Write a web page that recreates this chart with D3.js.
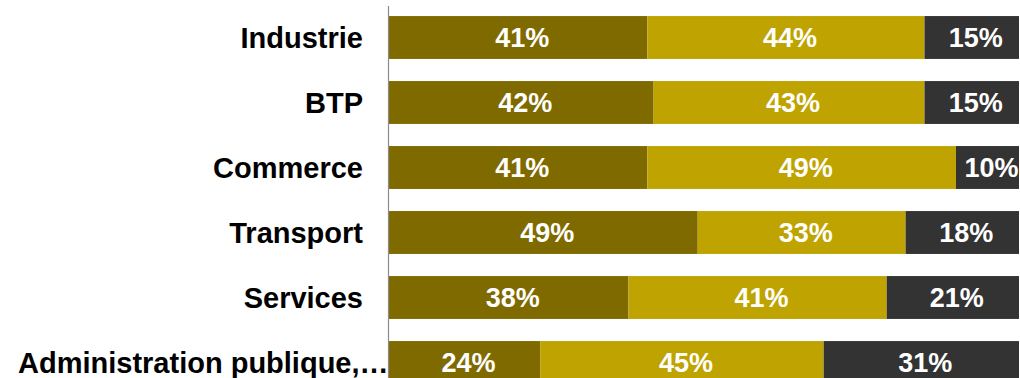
<!DOCTYPE html>
<html>
<head>
<meta charset="utf-8">
<script src="https://cdn.jsdelivr.net/npm/d3@7"></script>
<style>
  body { margin: 0; background: #fff; }
  #chart { width: 1020px; height: 378px; }
  text { font-family: "Liberation Sans", Arial, sans-serif; font-weight: bold; }
</style>
</head>
<body>
<div id="chart"></div>
<script>
// Sector breakdown - 100% stacked horizontal bars

const categories = ["Industrie", "BTP", "Commerce", "Transport", "Services", "Administration publique,…"];
const seriesA = [41, 42, 41, 49, 38, 24];
const seriesB = [44, 43, 49, 33, 41, 45];
const seriesC = [15, 15, 10, 18, 21, 31];
const seriesColors = ["#7f6a00", "#bfa300", "#333333"];

function renderChart(containerId) {
  const width = 1020, height = 378;
  const margin = { top: 5, right: 1, bottom: 0, left: 389 };

  const container = d3.select(`#${containerId}`);
  container.selectAll("*").remove();

  const svg = container.append("svg")
    .attr("width", width)
    .attr("height", height);

  const x = d3.scaleLinear()
    .domain([0, 100])
    .range([margin.left, width - margin.right]);

  const y = d3.scaleBand()
    .domain(categories)
    .range([margin.top, margin.top + categories.length * 65])
    .paddingInner(0.34)
    .paddingOuter(0.17);

  // build rows for the stack
  const rows = categories.map((c, i) => ({ cat: c, a: seriesA[i], b: seriesB[i], c: seriesC[i] }));
  const stack = d3.stack().keys(["a", "b", "c"])(rows);

  const layers = svg.append("g")
    .selectAll("g")
    .data(stack)
    .join("g")
    .attr("fill", (d, i) => seriesColors[i]);

  layers.selectAll("rect")
    .data(d => d)
    .join("rect")
    .attr("x", d => x(d[0]))
    .attr("y", d => y(d.data.cat))
    .attr("width", d => x(d[1]) - x(d[0]))
    .attr("height", y.bandwidth());

  // value labels
  layers.selectAll("text")
    .data(d => d)
    .join("text")
    .attr("x", d => (x(d[0]) + x(d[1])) / 2 + 4)
    .attr("y", d => y(d.data.cat) + y.bandwidth() / 2)
    .attr("dy", "0.36em")
    .attr("text-anchor", "middle")
    .attr("fill", "#fff")
    .style("font-size", "27px")
    .text(d => (d[1] - d[0]) + "%");

  // vertical axis line
  svg.append("line")
    .attr("x1", margin.left - 0.5)
    .attr("x2", margin.left - 0.5)
    .attr("y1", 6)
    .attr("y2", height)
    .attr("stroke", "#8c8c8c")
    .attr("stroke-width", 1.2);

  // category labels
  const labels = svg.append("g")
    .selectAll("text")
    .data(categories)
    .join("text")
    .attr("x", 363)
    .attr("y", d => y(d) + y.bandwidth() / 2)
    .attr("dy", "0.36em")
    .attr("text-anchor", "end")
    .attr("fill", "#000")
    .style("font-size", "29px")
    .text(d => d);

  // long labels overflow to the right, starting from the left edge
  labels.each(function() {
    const len = this.getComputedTextLength();
    if (363 - len < 18) {
      d3.select(this).attr("x", 18).attr("text-anchor", "start");
    }
  });
}

document.addEventListener("DOMContentLoaded", () => {
  renderChart("chart");
});
</script>
</body>
</html>
